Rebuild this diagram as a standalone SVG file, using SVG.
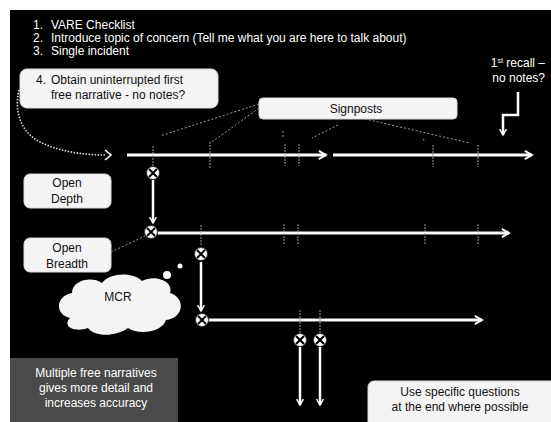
<svg xmlns="http://www.w3.org/2000/svg" width="551" height="422" viewBox="0 0 551 422">
  <defs>
    <style>
      text { font-family: "Liberation Sans", Arial, sans-serif; font-size: 12px; }
      .wt { fill: #ffffff; }
      .bt { fill: #111111; }
      .mid { text-anchor: middle; }
      .box { fill: #f4f4f4; stroke: #dcdcdc; stroke-width: 1; }
      .timeline { stroke: #ffffff; stroke-width: 3; fill: none; }
      .drop { stroke: #ffffff; stroke-width: 2.5; fill: none; }
      .tick { stroke: #9a9a9a; stroke-width: 1; stroke-dasharray: 2 1; }
      .pointer { stroke: #a0a0a0; stroke-width: 1; stroke-dasharray: 2 2; fill: none; }
    </style>
    <marker id="chev" viewBox="0 0 10 10" refX="8" refY="5" markerWidth="3.4" markerHeight="3.4" orient="auto">
      <path d="M1 1 L8 5 L1 9" fill="none" stroke="#ffffff" stroke-width="1.8"/>
    </marker>
    <g id="xmark">
      <circle r="6.5" fill="#ffffff" stroke="#333333" stroke-width="1"/>
      <path d="M-4 -4 L4 4 M4 -4 L-4 4" stroke="#000000" stroke-width="2"/>
    </g>
  </defs>

  <!-- page frame -->
  <rect x="0" y="0" width="551" height="422" fill="#ffffff"/>
  <rect x="10" y="10" width="541" height="412" fill="#000000"/>

  <!-- numbered steps -->
  <g id="steps" class="wt">
    <text x="33" y="29">1.</text><text x="51" y="29">VARE Checklist</text>
    <text x="33" y="42">2.</text><text x="51" y="42">Introduce topic of concern (Tell me what you are here to talk about)</text>
    <text x="33" y="55">3.</text><text x="51" y="55">Single incident</text>
  </g>

  <g id="step4">
    <rect class="box" x="20" y="69" width="198" height="39" rx="7"/>
    <text class="bt" x="36" y="84">4.</text>
    <text class="bt" x="51" y="84">Obtain uninterrupted first</text>
    <text class="bt" x="51" y="99">free  narrative - no notes?</text>
  </g>

  <g id="first-recall">
    <text class="wt" x="545" y="67" text-anchor="end">1<tspan font-size="7" dy="-4">st</tspan><tspan dy="4"> recall –</tspan></text>
    <text class="wt" x="545" y="82" text-anchor="end">no notes?</text>
  </g>

  <g id="signposts">
    <rect class="box" x="259" y="98" width="198" height="21" rx="4"/>
    <text class="bt mid" x="356" y="113">Signposts</text>
  </g>

  <g id="open-depth">
    <rect class="box" x="24" y="174" width="87" height="34" rx="6"/>
    <text class="bt mid" x="67" y="187">Open</text>
    <text class="bt mid" x="67" y="203">Depth</text>
  </g>

  <g id="open-breadth">
    <rect class="box" x="24" y="238" width="87" height="34" rx="6"/>
    <text class="bt mid" x="67" y="252">Open</text>
    <text class="bt mid" x="67" y="268">Breadth</text>
  </g>

  <g id="mcr">
    <circle cx="180" cy="266" r="2.5" fill="#ffffff"/>
    <circle cx="167" cy="275" r="4" fill="#ffffff"/>
    <path d="M70 318 C54 314 56 296 72 293 C72 280 92 276 102 283 C110 272 134 272 142 281 C156 274 174 282 170 293 C186 298 184 318 166 320 C162 333 138 335 128 328 C116 337 94 337 88 328 C74 333 62 326 70 318 Z" fill="#f4f4f4"/>
    <text class="bt mid" x="118" y="301">MCR</text>
  </g>

  <g id="multiple-narratives">
    <rect x="10" y="358" width="168" height="64" fill="#4a4a4a"/>
    <text class="wt mid" x="96" y="377">Multiple free narratives</text>
    <text class="wt mid" x="96" y="392">gives more detail and</text>
    <text class="wt mid" x="96" y="407">increases accuracy</text>
  </g>

  <g id="specific-questions">
    <rect class="box" x="368" y="381" width="190" height="48" rx="6"/>
    <text class="bt mid" x="460" y="396">Use specific questions</text>
    <text class="bt mid" x="460" y="411">at the end where possible</text>
  </g>

  <!-- connectors -->
  <g id="connectors">
    <!-- timelines -->
    <path class="timeline" d="M127 155 H326" marker-end="url(#chev)"/>
    <path class="timeline" d="M333 155 H532" marker-end="url(#chev)"/>
    <path class="timeline" d="M158 233 H509" stroke-width="2.5" marker-end="url(#chev)"/>
    <path class="timeline" d="M208 320 H482" stroke-width="2" marker-end="url(#chev)"/>

    <!-- step 4 into first narrative -->
    <path d="M19 90 C14 110 20 132 40 142 C60 152 85 155 106 155" fill="none" stroke="#dddddd" stroke-width="1.6" stroke-dasharray="1.5 1.5"/>
    <path d="M105 150 L111 155 L105 160" fill="none" stroke="#ffffff" stroke-width="1.6"/>

    <!-- first recall bent arrow -->
    <path class="drop" d="M518 92 V115 H503 V135" stroke-width="2" marker-end="url(#chev)"/>

    <!-- signpost pointers -->
    <path class="pointer" d="M259 104 L160 136 M259 108 L212 142 M338 125 L312 138 M365 119 L470 143"/>
    <path class="pointer" d="M283 131 V137 M423 139 L425 142"/>
    <path class="pointer" d="M111 252 L145 236"/>

    <!-- signpost ticks -->
    <path class="tick" d="M153 146 V166 M210 142 V168 M285 144 V166 M299 144 V166 M433 145 V167 M478 145 V167"/>
    <path class="tick" d="M201 225 V246 M284 224 V244 M298 224 V244 M425 224 V244 M478 224 V244"/>
    <path class="tick" d="M300 310 V333 M320 310 V333"/>

    <!-- drops between narratives -->
    <path class="drop" d="M153 180 V223" marker-end="url(#chev)"/>
    <path class="drop" d="M201 262 V311" marker-end="url(#chev)"/>
    <path class="drop" d="M300 347 V405" marker-end="url(#chev)"/>
    <path class="drop" d="M320 347 V405" marker-end="url(#chev)"/>
  </g>

  <!-- question points -->
  <g id="points">
    <use href="#xmark" x="153" y="173"/>
    <use href="#xmark" x="151" y="232"/>
    <use href="#xmark" x="201" y="254"/>
    <use href="#xmark" x="202" y="320"/>
    <use href="#xmark" x="300" y="340"/>
    <use href="#xmark" x="320" y="340"/>
  </g>
</svg>
